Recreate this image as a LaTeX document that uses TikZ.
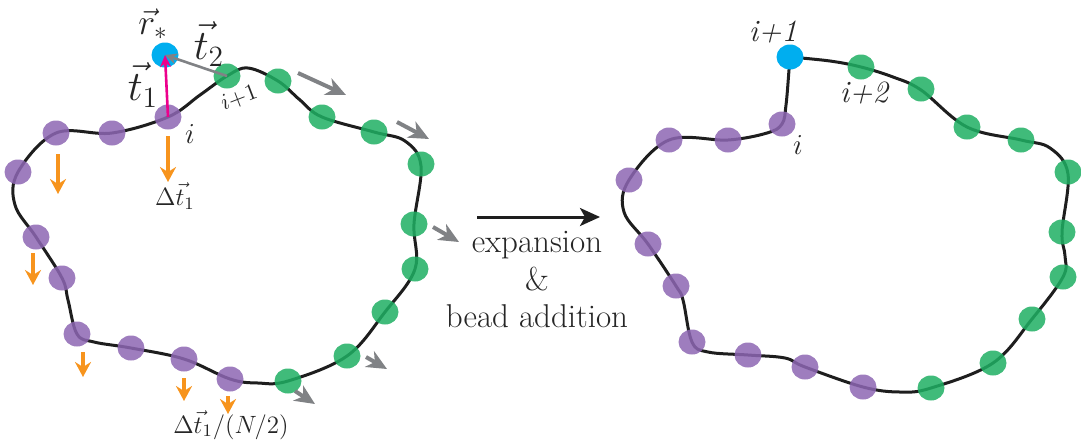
\RequirePackage{fix-cm}
\documentclass[tikz,border=0pt]{standalone}
\usetikzlibrary{shapes.geometric,arrows.meta}
\definecolor{purpb}{RGB}{141,102,179}
\definecolor{greenb}{RGB}{31,175,99}
\definecolor{blueb}{RGB}{0,174,239}
\definecolor{orangea}{RGB}{247,148,29}
\definecolor{graya}{RGB}{128,130,133}
\definecolor{magentaa}{RGB}{236,0,140}
\definecolor{curvec}{RGB}{30,30,30}
\begin{document}
\begin{tikzpicture}[x=0.5pt,y=-0.5pt,
  bead/.style={ellipse, minimum width=13.5pt, minimum height=12.5pt, inner sep=0pt, draw=none, fill opacity=0.85},
  pbead/.style={bead, fill=purpb},
  gbead/.style={bead, fill=greenb},
  bbead/.style={bead, fill=blueb, fill opacity=1},
  loop/.style={draw=curvec, line width=1.5pt},
  garrow/.style={draw=graya, line width=2pt, -{Stealth[length=10pt,width=9pt,inset=3pt]}},
  oarrow/.style={draw=orangea, line width=1.9pt, -{Stealth[length=7.5pt,width=8pt,inset=2.5pt]}},
  marrow/.style={draw=magentaa, line width=1.3pt, -{Stealth[length=6pt,width=5.5pt]}},
  marrowg/.style={draw=graya, line width=1.3pt, -{Stealth[length=6pt,width=5.5pt]}},
  mainarrow/.style={draw=curvec, line width=1.5pt, -{Stealth[length=10pt,width=9pt,inset=2.5pt]}},
  lbl/.style={inner sep=0pt, text=black!85}
]
\useasboundingbox (0,0) rectangle (1081,441);

% ---------- left loop ----------
\draw[loop] plot[smooth cycle, tension=0.6] coordinates {
 (168,117) (200,95) (227,76) (248,68) (278,81) (300,100) (322,117)
 (374,132) (405,141) (421,166) (414,224) (415,269)
 (385,312) (347,356) (288,381) (258,383) (230,379) (184,359)
 (131,348) (94,342) (77,334) (68,300) (62,278) (36,237)
 (15,205) (18,172) (56,133) (112,133)};

\node[pbead] (L1) at (168,117) {};
\node[pbead] (L2) at (112,133) {};
\node[pbead] (L3) at (56,133) {};
\node[pbead] (L4) at (18,172) {};
\node[pbead] (L5) at (36,237) {};
\node[pbead] (L6) at (62,278) {};
\node[pbead] (L7) at (77,334) {};
\node[pbead] (L8) at (131,348) {};
\node[pbead] (L9) at (184,359) {};
\node[pbead] (L10) at (230,379) {};
\node[gbead] (G1) at (227,76) {};
\node[gbead] (G2) at (278,81) {};
\node[gbead] (G3) at (322,117) {};
\node[gbead] (G4) at (374,132) {};
\node[gbead] (G5) at (421,164) {};
\node[gbead] (G6) at (414,224) {};
\node[gbead] (G7) at (415,269) {};
\node[gbead] (G8) at (385,312) {};
\node[gbead] (G9) at (347,356) {};
\node[gbead] (G10) at (288,381) {};
\node[bbead] (B) at (165,55) {};

% arrows to r*
\draw[marrowg] (G1.center) -- (B.center);
\draw[marrow] (L1.center) -- (B.center);

% gray expansion arrows
\coordinate (g1s) at (298,73); \coordinate (g1e) at (346,95);
\coordinate (g2s) at (397,122); \coordinate (g2e) at (429,139);
\coordinate (g3s) at (433,227); \coordinate (g3e) at (459,242);
\coordinate (g4s) at (366,357); \coordinate (g4e) at (387,369);
\coordinate (g5s) at (295,391); \coordinate (g5e) at (315,404);
\draw[garrow] (g1s) -- (g1e);
\draw[garrow] (g2s) -- (g2e);
\draw[garrow] (g3s) -- (g3e);
\draw[garrow] (g4s) -- (g4e);
\draw[garrow] (g5s) -- (g5e);

% orange arrows
\coordinate (o1s) at (58,154); \coordinate (o1e) at (58,194);
\coordinate (o2s) at (168,136); \coordinate (o2e) at (168,182);
\coordinate (o3s) at (33,253); \coordinate (o3e) at (33,285);
\coordinate (o4s) at (83,352); \coordinate (o4e) at (83,377);
\coordinate (o5s) at (184,378); \coordinate (o5e) at (184,401);
\coordinate (o6s) at (228,396); \coordinate (o6e) at (228,414);
\draw[oarrow] (o1s) -- (o1e);
\draw[oarrow] (o2s) -- (o2e);
\draw[oarrow] (o3s) -- (o3e);
\draw[oarrow] (o4s) -- (o4e);
\draw[oarrow] (o5s) -- (o5e);
\draw[oarrow] (o6s) -- (o6e);

% left labels
\node[lbl, font=\fontsize{18}{20}\selectfont] (rstar) at (153,24) {$\vec{r}_*$};
\node[lbl, font=\fontsize{21}{24}\selectfont] (t2) at (209,44) {$\vec{t}_2$};
\node[lbl, font=\fontsize{21}{24}\selectfont] (t1) at (143,85) {$\vec{t}_1$};
\node[lbl, font=\fontsize{14.5}{16}\selectfont] (li) at (190,134) {$i$};
\node[lbl, font=\fontsize{11.5}{13}\selectfont, rotate=21] (lip) at (239,98) {$i{+}1$};
\node[lbl, font=\fontsize{12.5}{14}\selectfont] (dt) at (175,196) {$\Delta\vec{t}_1$};
\node[lbl, font=\fontsize{12.5}{14}\selectfont] (dtn) at (231,425) {$\Delta\vec{t}_1/(N/2)$};

% ---------- middle ----------
\coordinate (ma) at (477,217); \coordinate (mb) at (600,217);
\draw[mainarrow] (ma) -- (mb);
\node[lbl, anchor=base, font=\fontsize{16.5}{19}\selectfont] (ex1) at (537,252) {expansion};
\node[lbl, anchor=base, font=\fontsize{16.5}{19}\selectfont] (ex2) at (537,290) {\&};
\node[lbl, anchor=base, font=\fontsize{16.5}{19}\selectfont] (ex3) at (537,327) {bead addition};

% ---------- right loop ----------
\draw[loop] plot[smooth, tension=0.6] coordinates {
 (790,57) (830,61) (861,67) (893,77) (921,90) (967,127)
 (1021,140) (1050,148) (1068,174) (1062,232) (1065,256)
 (1063,277) (1032,319) (993,363) (931,388) (900,392)
 (863,387) (805,367) (785,358) (748,355) (708,352) (692,342)
 (683,300) (676,286) (648,244) (624,212) (629,180)
 (669,140) (728,140) (767,133) (782,124) (786,105) (789,70) (790,57)};

\node[pbead] (R1) at (782,124) {};
\node[pbead] (R2) at (728,140) {};
\node[pbead] (R3) at (669,140) {};
\node[pbead] (R4) at (629,180) {};
\node[pbead] (R5) at (648,244) {};
\node[pbead] (R6) at (676,286) {};
\node[pbead] (R7) at (692,342) {};
\node[pbead] (R8) at (748,355) {};
\node[pbead] (R9) at (805,367) {};
\node[pbead] (R10) at (863,387) {};
\node[gbead] (S1) at (861,67) {};
\node[gbead] (S2) at (921,89) {};
\node[gbead] (S3) at (967,127) {};
\node[gbead] (S4) at (1021,140) {};
\node[gbead] (S5) at (1068,172) {};
\node[gbead] (S6) at (1062,232) {};
\node[gbead] (S7) at (1063,277) {};
\node[gbead] (S8) at (1032,319) {};
\node[gbead] (S9) at (993,363) {};
\node[gbead] (S10) at (931,388) {};
\node[bbead] (RB) at (790,57) {};

\node[lbl, font=\fontsize{15.5}{18}\selectfont\itshape] (rip) at (773,32) {i+1};
\node[lbl, font=\fontsize{15.5}{18}\selectfont\itshape] (rip2) at (864,93) {i+2};
\node[lbl, font=\fontsize{14.5}{16}\selectfont] (ri) at (798,145) {$i$};
\end{tikzpicture}
\end{document}
